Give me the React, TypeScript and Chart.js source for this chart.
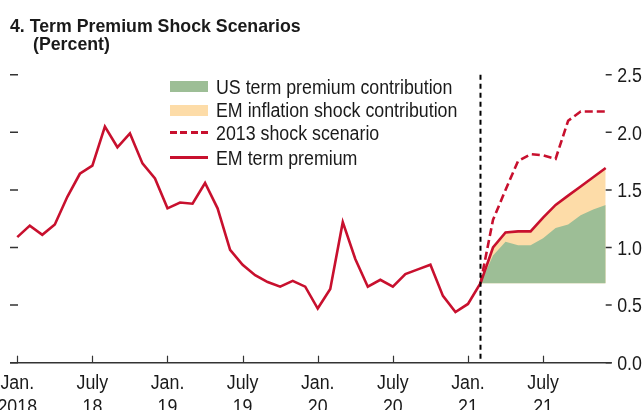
import React, { useEffect, useRef } from 'react';
import { Chart, registerables } from 'chart.js';

Chart.register(...registerables);

// ---------- data ----------
const xTickMonths = [0, 6, 12, 18, 24, 30, 36, 42];
const xTickTop = ['Jan.', 'July', 'Jan.', 'July', 'Jan.', 'July', 'Jan.', 'July'];
const xTickBottom = ['2018', '18', '19', '19', '20', '20', '21', '21'];
const yTicks = [0, 0.5, 1.0, 1.5, 2.0, 2.5];

// EM term premium, monthly, Jan 2018 – Feb 2021
const emTermPremiumHistory = [
  1.09, 1.19, 1.11, 1.2, 1.44, 1.64, 1.71, 2.05, 1.87, 1.99, 1.73, 1.6,
  1.34, 1.39, 1.38, 1.56, 1.34, 0.98, 0.85, 0.76, 0.7, 0.66, 0.71, 0.66,
  0.47, 0.64, 1.22, 0.9, 0.66, 0.72, 0.66, 0.77, 0.81, 0.85, 0.58, 0.44,
  0.51, 0.69,
];
const scenarioStart = 37; // Feb 2021 (month index from Jan 2018)
// Scenario paths, Feb 2021 – Dec 2021
const emTermPremiumScenario = [0.69, 1.0, 1.13, 1.14, 1.14, 1.26, 1.37, 1.45, 1.53, 1.61, 1.69];
const usTermPremiumLevel = [0.69, 0.93, 1.05, 1.02, 1.02, 1.08, 1.17, 1.2, 1.28, 1.33, 1.37];
const shock2013Scenario = [0.69, 1.24, 1.5, 1.75, 1.81, 1.8, 1.77, 2.1, 2.18, 2.18, 2.18];
const scenarioBase = 0.69;

const legendLabels = [
  'US term premium contribution',
  'EM inflation shock contribution',
  '2013 shock scenario',
  'EM term premium',
];

// ---------- styles ----------
const RED = '#C8102E';
const GREEN = '#9DBE96';
const ORANGE = '#FDDCA8';
const INK = '#1a1a1a';
const FONT = '"Liberation Sans", Arial, sans-serif';
const SX = 0.89; // horizontal condensing

function drawText(ctx: CanvasRenderingContext2D, text: string, x: number, y: number, align: CanvasTextAlign) {
  ctx.save();
  ctx.translate(x, y);
  ctx.scale(SX, 1);
  ctx.textAlign = align;
  ctx.textBaseline = 'alphabetic';
  ctx.fillText(text, 0, 0);
  ctx.restore();
}

const decorPlugin = {
  id: 'decor',
  afterDatasetsDraw(chart: any) {
    const { ctx, chartArea, scales } = chart;
    const xs = scales.x;
    const ys = scales.y;
    const y0 = ys.getPixelForValue(0);
    ctx.save();
    // scenario start marker
    const vx = xs.getPixelForValue(scenarioStart);
    ctx.strokeStyle = '#000';
    ctx.lineWidth = 2;
    ctx.setLineDash([5, 4]);
    ctx.beginPath();
    ctx.moveTo(vx, chartArea.top);
    ctx.lineTo(vx, y0);
    ctx.stroke();
    ctx.setLineDash([]);

    // x axis line
    ctx.strokeStyle = '#333';
    ctx.lineWidth = 1.5;
    ctx.beginPath();
    ctx.moveTo(chartArea.left, y0);
    ctx.lineTo(chartArea.right, y0);
    ctx.stroke();

    // x tick marks (inward)
    ctx.lineWidth = 1.2;
    xTickMonths.forEach((m) => {
      const px = Math.round(xs.getPixelForValue(m)) + 0.5;
      ctx.beginPath();
      ctx.moveTo(px, y0);
      ctx.lineTo(px, y0 - 7);
      ctx.stroke();
    });

    // y tick marks left & right
    ctx.lineWidth = 1.5;
    yTicks.forEach((v) => {
      const py = ys.getPixelForValue(v);
      ctx.beginPath();
      ctx.moveTo(chartArea.left, py);
      ctx.lineTo(chartArea.left + 8, py);
      ctx.moveTo(chartArea.right - 6, py);
      ctx.lineTo(chartArea.right, py);
      ctx.stroke();
    });

    // labels
    ctx.fillStyle = INK;
    ctx.font = `20px ${FONT}`;
    yTicks.forEach((v) => {
      const py = ys.getPixelForValue(v);
      drawText(ctx, v.toFixed(1), chartArea.right + 5.5, py + 7.2, 'left');
    });
    xTickMonths.forEach((m, i) => {
      const px = xs.getPixelForValue(m);
      drawText(ctx, xTickTop[i], px, y0 + 26.6, 'center');
      drawText(ctx, xTickBottom[i], px, y0 + 50.6, 'center');
    });
    ctx.restore();
  },
};

export default function App() {
  const ref = useRef<HTMLCanvasElement | null>(null);

  useEffect(() => {
    if (!ref.current) return;
    const lineData = [...emTermPremiumHistory, ...emTermPremiumScenario.slice(1)].map((v, i) => ({ x: i, y: v }));
    const scen = (arr: number[]) => arr.map((v, i) => ({ x: scenarioStart + i, y: v }));

    const chart = new Chart(ref.current, {
      type: 'line',
      data: {
        datasets: [
          {
            label: legendLabels[3],
            data: lineData,
            borderColor: RED,
            borderWidth: 2.6,
            pointRadius: 0,
            fill: false,
            tension: 0,
            order: 0,
          },
          {
            label: legendLabels[2],
            data: scen(shock2013Scenario),
            borderColor: RED,
            borderWidth: 2.6,
            borderDash: [8, 4],
            pointRadius: 0,
            fill: false,
            tension: 0,
            order: 1,
          },
          {
            label: legendLabels[0],
            data: scen(usTermPremiumLevel),
            borderColor: 'rgba(0,0,0,0)',
            borderWidth: 0,
            backgroundColor: GREEN,
            pointRadius: 0,
            fill: { value: scenarioBase },
            tension: 0,
            order: 2,
          },
          {
            label: legendLabels[1],
            data: scen(emTermPremiumScenario),
            borderColor: 'rgba(0,0,0,0)',
            borderWidth: 0,
            backgroundColor: ORANGE,
            pointRadius: 0,
            fill: { value: scenarioBase },
            tension: 0,
            order: 3,
          },
        ],
      },
      options: {
        animation: false,
        responsive: false,
        devicePixelRatio: 1,
        layout: { padding: { left: 10, right: 31.3, top: 74.7, bottom: 47.3 } },
        plugins: { legend: { display: false }, title: { display: false }, tooltip: { enabled: false } },
        scales: {
          x: { type: 'linear', min: -0.58, max: 47.48, display: false },
          y: { type: 'linear', min: 0, max: 2.5, display: false },
        },
      },
      plugins: [decorPlugin],
    });
    return () => chart.destroy();
  }, []);

  const textStyle = (left: number, top: number, size: number, bold: boolean, sx: number): React.CSSProperties => ({
    position: 'absolute',
    left,
    top,
    fontFamily: FONT,
    fontSize: size,
    lineHeight: `${size}px`,
    fontWeight: bold ? 700 : 400,
    color: INK,
    whiteSpace: 'nowrap',
    transform: `scaleX(${sx})`,
    transformOrigin: '0 0',
  });

  const rowCenters = [86.3, 110, 132.7, 157.3];

  return (
    <div style={{ position: 'fixed', left: 0, top: 0, width: 643, height: 410, background: '#fff', overflow: 'hidden' }}>
      <canvas ref={ref} width={643} height={410} style={{ position: 'absolute', left: 0, top: 0, width: 643, height: 410 }} />
      <div style={textStyle(10, 15.6, 19, true, 0.934)}>4. Term Premium Shock Scenarios</div>
      <div style={textStyle(33.3, 33.9, 19, true, 0.934)}>(Percent)</div>
      {/* legend */}
      <div style={{ position: 'absolute', left: 170, top: rowCenters[0] - 5.5, width: 38, height: 11, background: GREEN }} />
      <div style={{ position: 'absolute', left: 170, top: rowCenters[1] - 5.5, width: 38, height: 11, background: ORANGE }} />
      <div
        style={{
          position: 'absolute',
          left: 170,
          top: rowCenters[2] - 1.3,
          width: 38,
          height: 2.6,
          background: `repeating-linear-gradient(to right, ${RED} 0px, ${RED} 7px, transparent 7px, transparent 10.5px)`,
        }}
      />
      <div style={{ position: 'absolute', left: 170, top: rowCenters[3] - 1.3, width: 38, height: 2.6, background: RED }} />
      {legendLabels.map((t, i) => (
        <div key={t} style={textStyle(216, rowCenters[i] + 7.2 - 16.93, 20, false, SX)}>
          {t}
        </div>
      ))}
    </div>
  );
}
